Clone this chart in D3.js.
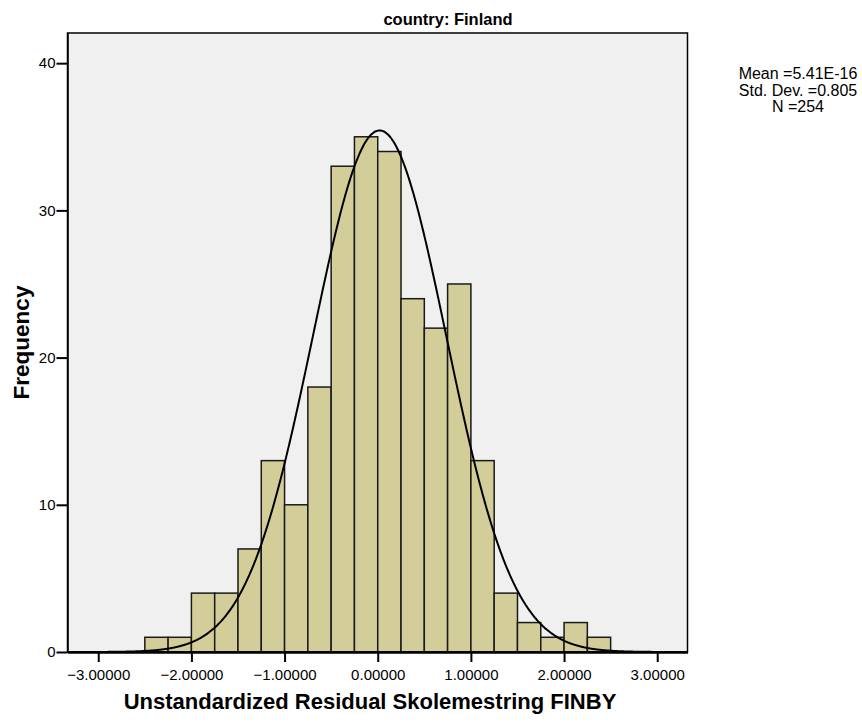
<!DOCTYPE html>
<html>
<head>
<meta charset="utf-8">
<script src="https://cdn.jsdelivr.net/npm/d3@7"></script>
<style>
  body { margin: 0; background: #fff; }
  text { font-family: "Liberation Sans", Arial, sans-serif; fill: #000; }
</style>
</head>
<body>
<div id="chart"></div>
<script>
// Histogramm-Klassen (Untergrenzen, Breite 0.25) und Häufigkeiten
const binStarts = [-2.5, -2.25, -2.0, -1.75, -1.5, -1.25, -1.0, -0.75, -0.5, -0.25,
                   0.0, 0.25, 0.5, 0.75, 1.0, 1.25, 1.5, 1.75, 2.0, 2.25];
const counts = [1, 1, 4, 4, 7, 13, 10, 18, 33, 35, 34, 24, 22, 25, 13, 4, 2, 1, 2, 1];
const binWidth = 0.25;

// Achsenbeschriftungen
const xTicks = [-3, -2, -1, 0, 1, 2, 3];
const yTicks = [0, 10, 20, 30, 40];

// Normalverteilungskurve (Parameter)
const curveMean = 0.02, curveSd = 0.715, curveN = 254;
const statsLines = ["Mean =5.41E-16", "Std. Dev. =0.805", "N =254"];

const W = 862, H = 724;
const margin = { left: 67.5, right: 174.5, top: 33, bottom: 72 };
const width = W - margin.left - margin.right,
      height = H - margin.top - margin.bottom;

const svg = d3.select("#chart").append("svg")
    .attr("width", W).attr("height", H);

const g = svg.append("g").attr("transform", `translate(${margin.left},${margin.top})`);

const x = d3.scaleLinear().domain([-3.33, 3.325]).range([0, width]);
const y = d3.scaleLinear().domain([0, 42.05]).range([height, 0]);

// Hintergrund
g.append("rect")
  .attr("width", width).attr("height", height)
  .attr("fill", "#f0f0f0");

// Balken
g.append("g").selectAll("rect")
  .data(binStarts)
  .enter().append("rect")
  .attr("x", d => x(d))
  .attr("y", (d, i) => y(counts[i]))
  .attr("width", d => x(d + binWidth) - x(d))
  .attr("height", (d, i) => y(0) - y(counts[i]))
  .attr("fill", "#d3ce99")
  .attr("stroke", "#1a1a1a")
  .attr("stroke-width", 1.5);

// Kurve
const pts = d3.range(-3.33, 3.33, 0.01);
const scale = curveN * binWidth / (curveSd * Math.sqrt(2 * Math.PI));
const line = d3.line()
  .x(d => x(d))
  .y(d => y(scale * Math.exp(-((d - curveMean) ** 2) / (2 * curveSd * curveSd))))
  .curve(d3.curveBasis);
g.append("path")
  .datum(pts)
  .attr("d", line)
  .attr("fill", "none")
  .attr("stroke", "#000")
  .attr("stroke-width", 2);

// Rahmen
g.append("rect")
  .attr("width", width).attr("height", height)
  .attr("fill", "none").attr("stroke", "#000").attr("stroke-width", 1.5);

// X-Achse
const xAxis = g.append("g")
  .attr("transform", `translate(0,${height})`)
  .call(d3.axisBottom(x).tickValues(xTicks).tickFormat(d3.format(".5f")).tickSize(10).tickSizeOuter(0));
xAxis.select(".domain").attr("stroke", "#000").attr("stroke-width", 2.5);
xAxis.selectAll(".tick line").attr("stroke", "#000").attr("stroke-width", 2);
xAxis.selectAll(".tick text")
  .attr("font-family", "'Liberation Sans', Arial, sans-serif")
  .attr("font-size", 15).attr("fill", "#000").attr("dy", "1.0em");

// Y-Achse
const yAxis = g.append("g")
  .call(d3.axisLeft(y).tickValues(yTicks).tickSize(11).tickSizeOuter(0));
yAxis.select(".domain").attr("stroke", "#000").attr("stroke-width", 1.5);
yAxis.selectAll(".tick line").attr("stroke", "#000").attr("stroke-width", 2);
yAxis.selectAll(".tick text")
  .attr("font-family", "'Liberation Sans', Arial, sans-serif")
  .attr("font-size", 15).attr("fill", "#000").attr("x", -12);

// Titel
svg.append("text")
  .attr("x", 448).attr("y", 25)
  .attr("text-anchor", "middle")
  .attr("font-size", 16.5).attr("font-weight", "bold")
  .text("country: Finland");

// Achsentitel
svg.append("text")
  .attr("x", 370).attr("y", 709)
  .attr("text-anchor", "middle")
  .attr("font-size", 22).attr("font-weight", "bold")
  .text("Unstandardized Residual Skolemestring FINBY");

svg.append("text")
  .attr("transform", `translate(29,${margin.top + height / 2}) rotate(-90)`)
  .attr("text-anchor", "middle")
  .attr("font-size", 22.5).attr("font-weight", "bold")
  .text("Frequency");

// Statistik
svg.append("g").selectAll("text")
  .data(statsLines)
  .enter().append("text")
  .attr("x", 798)
  .attr("y", (d, i) => 79 + i * 16.5)
  .attr("text-anchor", "middle")
  .attr("font-size", 16)
  .text(d => d);
</script>
</body>
</html>
